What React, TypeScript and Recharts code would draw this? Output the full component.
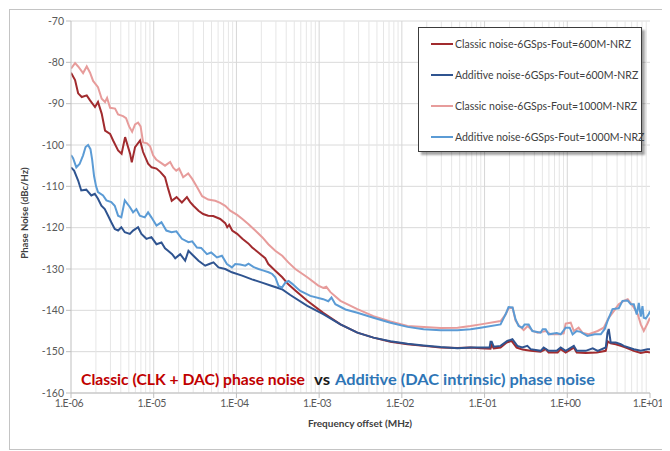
import {
  LineChart,
  Line,
  XAxis,
  YAxis,
  CartesianGrid,
  ReferenceLine,
} from "recharts";

// [frequency offset (MHz), phase noise (dBc/Hz)]
const classic600: [number, number][] = [
  [1.0e-6, -82.5], [1.12e-6, -84.3], [1.22e-6, -87.5], [1.35e-6, -88.4], [1.55e-6, -88.0],
  [1.7e-6, -89.2], [1.95e-6, -90.8], [2.12e-6, -89.6], [2.35e-6, -92.4], [2.58e-6, -96.5],
  [2.97e-6, -97.3], [3.23e-6, -98.9], [3.71e-6, -101.3], [4.09e-6, -102.1], [4.51e-6, -98.1],
  [5.18e-6, -102.1], [5.43e-6, -104.2], [5.95e-6, -100.5], [6.84e-6, -98.9], [7.44e-6, -101.7],
  [8.55e-6, -104.5], [9.43e-6, -105.4], [1.08e-5, -105.7], [1.2e-5, -106.5], [1.37e-5, -107.8],
  [1.49e-5, -110.5], [1.65e-5, -113.5], [1.89e-5, -112.6], [2.19e-5, -113.9], [2.52e-5, -112.6],
  [2.76e-5, -113.8], [3.02e-5, -114.7], [3.48e-5, -115.9], [3.96e-5, -116.7], [4.56e-5, -117.1],
  [5.24e-5, -117.2], [6.37e-5, -117.9], [7.32e-5, -118.9], [7.74e-5, -119.9], [8.18e-5, -119.3],
  [8.89e-5, -120.7], [1.02e-4, -121.5], [1.18e-4, -122.7], [1.39e-4, -123.8], [1.55e-4, -124.8],
  [1.84e-4, -126.0], [2.23e-4, -127.4], [2.43e-4, -128.8], [2.95e-4, -130.4], [3.58e-4, -132.0],
  [4.24e-4, -133.7], [5.15e-4, -135.2], [7.19e-4, -137.7], [1.12e-3, -140.6], [1.81e-3, -143.4],
  [2.9e-3, -145.4], [4.53e-3, -146.6], [7.28e-3, -147.6], [1.17e-2, -148.2], [1.83e-2, -148.6],
  [2.93e-2, -149.0], [4.71e-2, -149.1], [6.77e-2, -149.0], [8.95e-2, -149.2], [1.18e-1, -149.3],
  [1.22e-1, -148.4], [1.29e-1, -149.2], [1.56e-1, -149.0], [1.85e-1, -147.8], [2.12e-1, -147.4],
  [2.44e-1, -149.0], [2.88e-1, -149.5], [3.61e-1, -149.8], [4.76e-1, -150.0], [5.48e-1, -149.4],
  [5.95e-1, -150.2], [7.65e-1, -150.2], [8.32e-1, -149.4], [9.56e-1, -150.2], [1.2, -149.0],
  [1.3, -150.2], [1.67, -150.3], [2.27, -150.2], [2.92, -149.8], [3.08, -147.5], [3.35, -148.0],
  [3.85, -148.2], [4.43, -148.6], [5.09, -149.0], [6.37, -149.8], [7.74, -150.3], [9.15, -150.0],
  [10, -150.2],
];

const additive600: [number, number][] = [
  [1.0e-6, -105.4], [1.09e-6, -106.2], [1.22e-6, -108.6], [1.33e-6, -111.0], [1.53e-6, -110.8],
  [1.76e-6, -112.2], [1.94e-6, -111.8], [2.12e-6, -113.0], [2.33e-6, -114.7], [2.56e-6, -115.5],
  [2.81e-6, -117.1], [3.07e-6, -118.7], [3.38e-6, -120.3], [3.71e-6, -120.7], [4.06e-6, -119.9],
  [4.47e-6, -121.1], [5.14e-6, -121.5], [5.63e-6, -120.7], [6.47e-6, -119.9], [7.1e-6, -121.5],
  [8.16e-6, -122.7], [9.38e-6, -122.3], [1.08e-5, -124.0], [1.24e-5, -123.6], [1.37e-5, -125.0],
  [1.49e-5, -125.6], [1.67e-5, -126.4], [1.82e-5, -127.4], [2.09e-5, -126.4], [2.4e-5, -128.0],
  [2.63e-5, -125.6], [3.02e-5, -126.8], [3.48e-5, -128.0], [4.19e-5, -129.2], [4.69e-5, -128.8],
  [5.28e-5, -128.4], [6.07e-5, -129.6], [7.32e-5, -130.0], [8.82e-5, -130.8], [1.17e-4, -131.6],
  [1.54e-4, -132.5], [2.04e-4, -133.3], [2.69e-4, -134.1], [3.55e-4, -134.9], [4.48e-4, -136.3],
  [7.19e-4, -138.9], [1.12e-3, -140.9], [1.81e-3, -143.4], [2.9e-3, -145.4], [4.53e-3, -146.6],
  [7.28e-3, -147.5], [1.17e-2, -148.1], [1.83e-2, -148.5], [2.93e-2, -148.9], [4.71e-2, -149.2],
  [6.77e-2, -149.0], [1.15e-1, -149.0], [1.18e-1, -147.6], [1.22e-1, -147.6], [1.29e-1, -148.8],
  [1.56e-1, -148.6], [1.88e-1, -147.4], [2.17e-1, -147.0], [2.49e-1, -148.6], [2.86e-1, -149.0],
  [3.29e-1, -148.6], [3.61e-1, -149.4], [4.76e-1, -149.8], [5.18e-1, -149.0], [5.95e-1, -149.8],
  [7.44e-1, -149.8], [8.32e-1, -149.0], [9.56e-1, -149.8], [1.2, -148.6], [1.3, -149.8],
  [1.67, -149.8], [2.03, -149.2], [2.33, -149.8], [2.92, -149.0], [3.06, -145.5], [3.17, -144.5],
  [3.35, -147.8], [3.85, -147.8], [4.43, -148.2], [4.82, -148.6], [6.37, -149.4], [7.74, -149.8],
  [9.33, -149.4], [10, -149.4],
];

const classic1000: [number, number][] = [
  [1.0e-6, -81.5], [1.12e-6, -80.2], [1.22e-6, -81.0], [1.4e-6, -82.6], [1.55e-6, -81.0],
  [1.7e-6, -82.5], [1.85e-6, -84.5], [2.12e-6, -86.0], [2.35e-6, -88.8], [2.58e-6, -89.6],
  [2.73e-6, -88.6], [2.97e-6, -91.0], [3.41e-6, -91.2], [3.71e-6, -92.6], [4.26e-6, -93.0],
  [4.63e-6, -93.5], [5.04e-6, -95.5], [5.48e-6, -96.8], [5.95e-6, -95.0], [6.47e-6, -94.6],
  [6.94e-6, -95.5], [7.44e-6, -99.4], [8.32e-6, -99.6], [9.04e-6, -100.3], [9.83e-6, -102.5],
  [1.07e-5, -103.5], [1.2e-5, -104.2], [1.37e-5, -105.0], [1.58e-5, -104.1], [1.72e-5, -105.5],
  [1.87e-5, -106.2], [2.03e-5, -105.7], [2.27e-5, -107.8], [2.61e-5, -106.9], [2.92e-5, -108.2],
  [3.35e-5, -110.2], [3.85e-5, -112.4], [4.56e-5, -113.2], [5.54e-5, -113.5], [6.37e-5, -114.0],
  [7.32e-5, -114.7], [8.41e-5, -115.9], [1.02e-4, -116.9], [1.18e-4, -117.9], [1.39e-4, -119.1],
  [1.69e-4, -120.7], [2.05e-4, -122.3], [2.43e-4, -124.0], [2.95e-4, -125.6], [3.58e-4, -126.8],
  [4.24e-4, -128.4], [5.15e-4, -130.0], [7.19e-4, -132.0], [9.78e-4, -134.0], [1.12e-3, -134.6],
  [1.22e-3, -134.3], [1.37e-3, -135.6], [1.81e-3, -137.7], [2.9e-3, -139.7], [4.53e-3, -141.4],
  [7.28e-3, -142.7], [1.17e-2, -143.8], [2.93e-2, -144.3], [4.71e-2, -144.2], [6.77e-2, -143.8],
  [8.95e-2, -143.4], [1.56e-1, -142.6], [1.8e-1, -141.0], [1.95e-1, -139.5], [2.18e-1, -139.4],
  [2.37e-1, -142.5], [2.58e-1, -143.6], [2.97e-1, -144.8], [3.32e-1, -143.8], [3.81e-1, -145.0],
  [4.38e-1, -145.4], [5.48e-1, -145.0], [6.3e-1, -145.8], [7.87e-1, -145.8], [9.04e-1, -145.6],
  [9.56e-1, -143.2], [1.1, -143.0], [1.2, -145.0], [1.37, -144.2], [1.54, -145.5], [1.82, -145.8],
  [2.33, -145.0], [2.76, -144.2], [3.17, -141.8], [3.65, -140.2], [4.19, -138.5], [4.82, -137.7],
  [5.38, -137.3], [5.86, -138.3], [6.37, -139.3], [7.12, -141.0], [7.74, -143.4], [8.41, -145.0],
  [9.41, -143.0], [10, -141.8],
];

const additive1000: [number, number][] = [
  [1.0e-6, -102.4], [1.06e-6, -103.2], [1.16e-6, -105.4], [1.27e-6, -104.6], [1.4e-6, -102.5],
  [1.5e-6, -100.5], [1.61e-6, -100.0], [1.72e-6, -101.0], [1.8e-6, -103.5], [1.9e-6, -107.5],
  [2.01e-6, -110.0], [2.12e-6, -111.4], [2.44e-6, -112.2], [2.68e-6, -113.4], [3.07e-6, -113.8],
  [3.38e-6, -114.7], [3.71e-6, -117.1], [4.06e-6, -117.5], [4.47e-6, -113.4], [5.14e-6, -115.0],
  [5.63e-6, -116.3], [6.17e-6, -115.5], [6.79e-6, -117.1], [7.8e-6, -117.5], [8.55e-6, -116.3],
  [9.38e-6, -117.5], [1.08e-5, -119.5], [1.24e-5, -118.7], [1.42e-5, -120.7], [1.64e-5, -121.1],
  [1.88e-5, -120.9], [2.19e-5, -122.7], [2.63e-5, -123.5], [2.92e-5, -123.3], [3.33e-5, -124.8],
  [3.75e-5, -124.9], [4.4e-5, -126.4], [4.95e-5, -126.0], [5.81e-5, -127.2], [6.68e-5, -126.8],
  [7.67e-5, -128.8], [8.82e-5, -129.6], [9.67e-5, -128.8], [1.11e-4, -128.9], [1.28e-4, -129.2],
  [1.4e-4, -128.7], [1.6e-4, -129.5], [1.85e-4, -130.0], [2.13e-4, -130.4], [2.45e-4, -130.8],
  [2.71e-4, -131.2], [2.95e-4, -132.0], [3.23e-4, -134.1], [3.55e-4, -134.5], [3.9e-4, -133.3],
  [4.27e-4, -132.9], [4.74e-4, -133.6], [5.3e-4, -134.5], [5.92e-4, -135.3], [7.83e-4, -136.5],
  [1.12e-3, -137.3], [1.29e-3, -137.8], [1.41e-3, -136.9], [1.57e-3, -138.5], [2.08e-3, -139.8],
  [2.9e-3, -140.6], [4.53e-3, -141.8], [7.28e-3, -143.0], [1.17e-2, -144.0], [1.83e-2, -144.6],
  [2.93e-2, -144.8], [4.71e-2, -144.8], [6.77e-2, -144.6], [8.95e-2, -144.2], [1.56e-1, -143.4],
  [1.8e-1, -140.9], [1.95e-1, -139.2], [2.18e-1, -139.3], [2.37e-1, -142.2], [2.58e-1, -143.8],
  [2.86e-1, -144.2], [3.05e-1, -143.4], [3.41e-1, -143.4], [3.78e-1, -145.0], [4.76e-1, -145.4],
  [5.04e-1, -144.6], [5.48e-1, -144.6], [5.95e-1, -145.8], [7.44e-1, -145.5], [8.32e-1, -145.8],
  [9.56e-1, -144.2], [1.07, -144.2], [1.16, -145.8], [1.3, -145.0], [1.45, -145.2], [1.75, -146.2],
  [2.15, -145.8], [2.54, -145.8], [2.84, -144.5], [3.06, -142.6], [3.52, -139.7], [4.19, -139.5],
  [4.65, -137.7], [5.34, -137.6], [5.86, -138.5], [6.37, -138.5], [6.92, -141.0], [7.32, -138.2],
  [7.74, -141.5], [8.11, -139.0], [8.41, -141.8], [8.89, -142.0], [9.67, -140.9], [10, -140.2],
];

const xTicks = [1e-6, 1e-5, 1e-4, 1e-3, 1e-2, 1e-1, 1, 10];
const yTicks = [-160, -150, -140, -130, -120, -110, -100, -90, -80, -70];

const SERIES = [
  { name: "Classic noise-6GSps-Fout=600M-NRZ", points: classic600, color: "#a12b2e" },
  { name: "Additive noise-6GSps-Fout=600M-NRZ", points: additive600, color: "#2f5490" },
  { name: "Classic noise-6GSps-Fout=1000M-NRZ", points: classic1000, color: "#e79c9b" },
  { name: "Additive noise-6GSps-Fout=1000M-NRZ", points: additive1000, color: "#5b9bd5" },
];

// minor log gridlines, 2..9 inside each decade
const minorLines: number[] = [];
xTicks.slice(0, -1).forEach((d) => {
  for (let m = 2; m <= 9; m++) minorLines.push(d * m);
});

const FONT = "Lato, 'Open Sans', sans-serif";

function fmtX(v: number) {
  const e = Math.round(Math.log10(v));
  return `1.E${e < 0 ? "-" : "+"}${String(Math.abs(e)).padStart(2, "0")}`;
}

// Excel-ish compact tick text so the last label fits in the frame
function XTick({ x, y, payload }: any) {
  return (
    <text
      x={x - 2}
      y={y}
      dy="0.71em"
      textAnchor="middle"
      fontSize={10.5}
      fontFamily={FONT}
      fill="#595959"
      letterSpacing={-0.4}
    >
      {fmtX(payload.value)}
    </text>
  );
}

export default function App() {
  return (
    <div
      style={{
        position: "relative",
        width: 662,
        height: 443,
        overflow: "hidden",
        background: "#fff",
        fontFamily: FONT,
      }}
    >
      {/* keep the page from growing a scrollbar that eats the right edge */}
      <style>{"html, body { overflow: hidden; }"}</style>
      <div
        style={{
          position: "absolute",
          left: 1,
          top: 1,
          width: 700,
          height: 439,
          border: "1px solid #c4c4c4",
        }}
      />
      <LineChart
        width={662}
        height={443}
        margin={{ top: 13, right: 20, left: 0, bottom: 28 }}
        style={{ position: "absolute", left: 0, top: 0 }}
      >
        <CartesianGrid vertical={false} stroke="#dadada" />
        {minorLines.map((v) => (
          <ReferenceLine key={`m${v}`} x={v} stroke="#e6e6e6" strokeWidth={1} />
        ))}
        {xTicks.slice(1, -1).map((v) => (
          <ReferenceLine key={`d${v}`} x={v} stroke="#d6d6d6" strokeWidth={1} />
        ))}
        <XAxis
          dataKey="x"
          type="number"
          scale="log"
          domain={[1e-6, 10]}
          ticks={xTicks}
          interval={0}
          allowDataOverflow
          height={30}
          tickSize={5}
          stroke="#bfbfbf"
          tick={<XTick />}
        />
        <YAxis
          type="number"
          domain={[-160, -70]}
          ticks={yTicks}
          allowDataOverflow
          width={63}
          tickSize={5}
          stroke="#bfbfbf"
          tick={{ fontSize: 10.5, fill: "#595959", fontFamily: FONT }}
        />
        {SERIES.map((s) => (
          <Line
            key={s.name}
            name={s.name}
            data={s.points.map(([x, y]) => ({ x, y }))}
            dataKey="y"
            type="linear"
            stroke={s.color}
            strokeWidth={2}
            dot={false}
            isAnimationActive={false}
          />
        ))}
      </LineChart>

      {/* axis titles */}
      <div
        style={{
          position: "absolute",
          left: 16,
          top: 205,
          transform: "translate(-50%, -50%) rotate(-90deg)",
          fontSize: 9.5,
          fontWeight: 700,
          color: "#404040",
          whiteSpace: "nowrap",
        }}
      >
        Phase Noise (dBc/Hz)
      </div>
      <div
        style={{
          position: "absolute",
          left: 352,
          top: 415,
          transform: "translate(-50%, -50%)",
          fontSize: 10,
          fontWeight: 700,
          color: "#404040",
          whiteSpace: "nowrap",
        }}
      >
        Frequency offset (MHz)
      </div>

      {/* legend */}
      <div
        style={{
          position: "absolute",
          left: 410,
          top: 19,
          width: 222,
          height: 123,
          border: "1px solid #3c3c3c",
          background: "#fff",
          boxShadow: "3px 3px 2px rgba(0,0,0,0.35)",
        }}
      >
        {SERIES.map((s, i) => (
          <div
            key={s.name}
            style={{
              position: "absolute",
              left: 12,
              top: 16 + i * 31 - 7,
              height: 14,
              display: "flex",
              alignItems: "center",
              whiteSpace: "nowrap",
            }}
          >
            <span style={{ width: 22, height: 2, background: s.color, marginRight: 2 }} />
            <span style={{ fontSize: 10.5, color: "#404040" }}>{s.name}</span>
          </div>
        ))}
      </div>

      {/* annotation */}
      <svg
        width={662}
        height={443}
        style={{ position: "absolute", left: 0, top: 0, pointerEvents: "none" }}
      >
        <g fontFamily={FONT} fontWeight={700} fontSize={15.5}>
          <text x={73} y={377} fill="#c00000" textLength={224} lengthAdjust="spacingAndGlyphs">
            Classic (CLK + DAC) phase noise
          </text>
          <text x={306} y={377} fill="#1a1a1a" textLength={16} lengthAdjust="spacingAndGlyphs">
            vs
          </text>
          <text x={327} y={377} fill="#2e75b6" textLength={260} lengthAdjust="spacingAndGlyphs">
            Additive (DAC intrinsic) phase noise
          </text>
        </g>
      </svg>
    </div>
  );
}
